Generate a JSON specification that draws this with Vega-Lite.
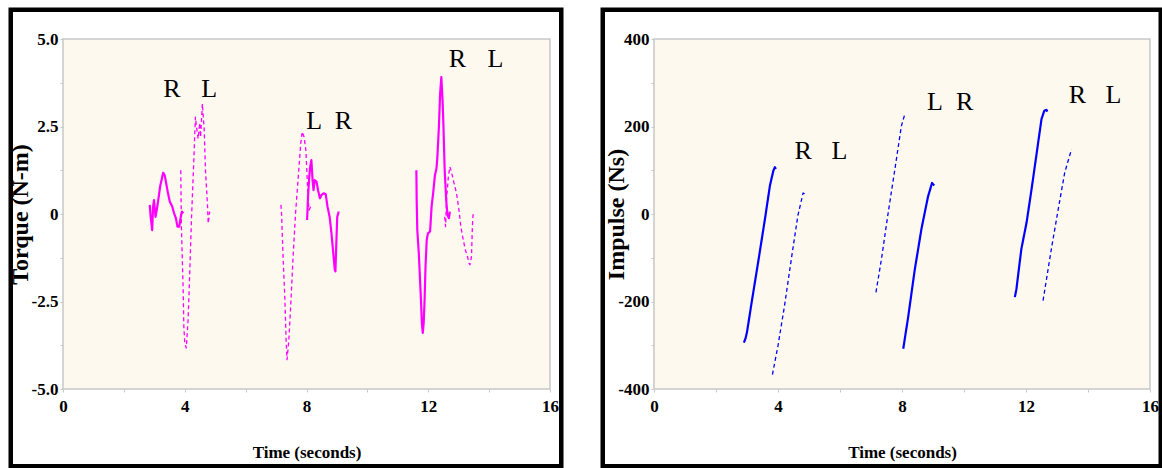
{
  "$schema": "https://vega.github.io/schema/vega-lite/v6.json",
  "background": "white",
  "padding": {"left": 7, "top": 6, "right": 0, "bottom": 0},
  "bounds": "flush",
  "spacing": 104,
  "config": {
    "view": {"fill": "#fdf9ef", "stroke": "#c8c8c8", "strokeWidth": 1.5},
    "style": {
      "guide-label": {"font": "Liberation Serif", "fontWeight": "bold", "fill": "black"},
      "guide-title": {"font": "Liberation Serif", "fontWeight": "bold", "fill": "black"}
    },
    "axis": {
      "labelFont": "Liberation Serif", "labelFontWeight": "bold", "labelFontSize": 17, "labelColor": "black",
      "titleFont": "Liberation Serif", "titleFontWeight": "bold", "titleColor": "black",
      "domain": false, "tickColor": "#c8c8c8", "tickSize": 3,
      "gridColor": "#cccccc", "gridWidth": 1.5,
      "labelFlush": false, "labelOverlap": false
    },
    "text": {"font": "Liberation Serif", "fontSize": 26, "color": "black"}
  },
  "datasets": {
    "torque": [
      {"t": 2.85, "v": 0.26, "seg": "R1", "foot": "R"},
      {"t": 2.88, "v": -0.08, "seg": "R1", "foot": "R"},
      {"t": 2.93, "v": -0.46, "seg": "R1", "foot": "R"},
      {"t": 2.96, "v": 0.21, "seg": "R1", "foot": "R"},
      {"t": 2.99, "v": 0.40, "seg": "R1", "foot": "R"},
      {"t": 3.04, "v": -0.08, "seg": "R1", "foot": "R"},
      {"t": 3.08, "v": 0.11, "seg": "R1", "foot": "R"},
      {"t": 3.13, "v": 0.40, "seg": "R1", "foot": "R"},
      {"t": 3.19, "v": 0.78, "seg": "R1", "foot": "R"},
      {"t": 3.29, "v": 1.18, "seg": "R1", "foot": "R"},
      {"t": 3.34, "v": 1.11, "seg": "R1", "foot": "R"},
      {"t": 3.40, "v": 0.83, "seg": "R1", "foot": "R"},
      {"t": 3.45, "v": 0.59, "seg": "R1", "foot": "R"},
      {"t": 3.51, "v": 0.35, "seg": "R1", "foot": "R"},
      {"t": 3.59, "v": 0.21, "seg": "R1", "foot": "R"},
      {"t": 3.65, "v": 0.02, "seg": "R1", "foot": "R"},
      {"t": 3.71, "v": -0.12, "seg": "R1", "foot": "R"},
      {"t": 3.76, "v": -0.36, "seg": "R1", "foot": "R"},
      {"t": 3.82, "v": -0.36, "seg": "R1", "foot": "R"},
      {"t": 3.87, "v": -0.08, "seg": "R1", "foot": "R"},
      {"t": 3.91, "v": 0.07, "seg": "R1", "foot": "R"},
      {"t": 3.95, "v": 0.02, "seg": "R1", "foot": "R"},

      {"t": 3.87, "v": 1.25, "seg": "L1", "foot": "L"},
      {"t": 3.88, "v": 0.40, "seg": "L1", "foot": "L"},
      {"t": 3.89, "v": -0.36, "seg": "L1", "foot": "L"},
      {"t": 3.92, "v": -1.31, "seg": "L1", "foot": "L"},
      {"t": 3.95, "v": -2.26, "seg": "L1", "foot": "L"},
      {"t": 3.97, "v": -3.21, "seg": "L1", "foot": "L"},
      {"t": 4.00, "v": -3.68, "seg": "L1", "foot": "L"},
      {"t": 4.05, "v": -3.83, "seg": "L1", "foot": "L"},
      {"t": 4.11, "v": -3.02, "seg": "L1", "foot": "L"},
      {"t": 4.16, "v": -1.79, "seg": "L1", "foot": "L"},
      {"t": 4.22, "v": -0.17, "seg": "L1", "foot": "L"},
      {"t": 4.29, "v": 1.35, "seg": "L1", "foot": "L"},
      {"t": 4.35, "v": 2.77, "seg": "L1", "foot": "L"},
      {"t": 4.40, "v": 2.39, "seg": "L1", "foot": "L"},
      {"t": 4.44, "v": 2.15, "seg": "L1", "foot": "L"},
      {"t": 4.49, "v": 2.60, "seg": "L1", "foot": "L"},
      {"t": 4.52, "v": 2.20, "seg": "L1", "foot": "L"},
      {"t": 4.58, "v": 3.15, "seg": "L1", "foot": "L"},
      {"t": 4.64, "v": 2.39, "seg": "L1", "foot": "L"},
      {"t": 4.68, "v": 1.25, "seg": "L1", "foot": "L"},
      {"t": 4.75, "v": 0.21, "seg": "L1", "foot": "L"},
      {"t": 4.77, "v": -0.27, "seg": "L1", "foot": "L"},
      {"t": 4.82, "v": 0.07, "seg": "L1", "foot": "L"},

      {"t": 7.16, "v": 0.26, "seg": "L2", "foot": "L"},
      {"t": 7.18, "v": 0.02, "seg": "L2", "foot": "L"},
      {"t": 7.23, "v": -1.22, "seg": "L2", "foot": "L"},
      {"t": 7.29, "v": -2.45, "seg": "L2", "foot": "L"},
      {"t": 7.33, "v": -3.59, "seg": "L2", "foot": "L"},
      {"t": 7.36, "v": -4.16, "seg": "L2", "foot": "L"},
      {"t": 7.42, "v": -3.59, "seg": "L2", "foot": "L"},
      {"t": 7.48, "v": -2.64, "seg": "L2", "foot": "L"},
      {"t": 7.56, "v": -1.22, "seg": "L2", "foot": "L"},
      {"t": 7.64, "v": 0.02, "seg": "L2", "foot": "L"},
      {"t": 7.73, "v": 1.06, "seg": "L2", "foot": "L"},
      {"t": 7.81, "v": 2.01, "seg": "L2", "foot": "L"},
      {"t": 7.86, "v": 2.35, "seg": "L2", "foot": "L"},
      {"t": 7.92, "v": 2.20, "seg": "L2", "foot": "L"},
      {"t": 7.98, "v": 1.82, "seg": "L2", "foot": "L"},
      {"t": 8.03, "v": 0.87, "seg": "L2", "foot": "L"},
      {"t": 8.08, "v": 0.11, "seg": "L2", "foot": "L"},
      {"t": 8.14, "v": 0.21, "seg": "L2", "foot": "L"},

      {"t": 8.02, "v": -0.17, "seg": "R2", "foot": "R"},
      {"t": 8.05, "v": 0.49, "seg": "R2", "foot": "R"},
      {"t": 8.09, "v": 1.06, "seg": "R2", "foot": "R"},
      {"t": 8.12, "v": 1.35, "seg": "R2", "foot": "R"},
      {"t": 8.16, "v": 1.54, "seg": "R2", "foot": "R"},
      {"t": 8.20, "v": 0.97, "seg": "R2", "foot": "R"},
      {"t": 8.23, "v": 0.68, "seg": "R2", "foot": "R"},
      {"t": 8.27, "v": 0.97, "seg": "R2", "foot": "R"},
      {"t": 8.33, "v": 0.92, "seg": "R2", "foot": "R"},
      {"t": 8.38, "v": 0.68, "seg": "R2", "foot": "R"},
      {"t": 8.44, "v": 0.45, "seg": "R2", "foot": "R"},
      {"t": 8.49, "v": 0.54, "seg": "R2", "foot": "R"},
      {"t": 8.56, "v": 0.59, "seg": "R2", "foot": "R"},
      {"t": 8.63, "v": 0.57, "seg": "R2", "foot": "R"},
      {"t": 8.69, "v": 0.21, "seg": "R2", "foot": "R"},
      {"t": 8.76, "v": -0.08, "seg": "R2", "foot": "R"},
      {"t": 8.82, "v": -0.55, "seg": "R2", "foot": "R"},
      {"t": 8.88, "v": -1.12, "seg": "R2", "foot": "R"},
      {"t": 8.93, "v": -1.60, "seg": "R2", "foot": "R"},
      {"t": 8.95, "v": -1.64, "seg": "R2", "foot": "R"},
      {"t": 8.98, "v": -0.84, "seg": "R2", "foot": "R"},
      {"t": 9.01, "v": -0.08, "seg": "R2", "foot": "R"},
      {"t": 9.06, "v": 0.07, "seg": "R2", "foot": "R"},

      {"t": 11.61, "v": 1.25, "seg": "R3", "foot": "R"},
      {"t": 11.62, "v": 0.40, "seg": "R3", "foot": "R"},
      {"t": 11.64, "v": -0.46, "seg": "R3", "foot": "R"},
      {"t": 11.69, "v": -1.12, "seg": "R3", "foot": "R"},
      {"t": 11.73, "v": -1.88, "seg": "R3", "foot": "R"},
      {"t": 11.76, "v": -2.45, "seg": "R3", "foot": "R"},
      {"t": 11.79, "v": -3.11, "seg": "R3", "foot": "R"},
      {"t": 11.82, "v": -3.40, "seg": "R3", "foot": "R"},
      {"t": 11.85, "v": -3.11, "seg": "R3", "foot": "R"},
      {"t": 11.88, "v": -2.45, "seg": "R3", "foot": "R"},
      {"t": 11.91, "v": -1.50, "seg": "R3", "foot": "R"},
      {"t": 11.95, "v": -0.74, "seg": "R3", "foot": "R"},
      {"t": 11.99, "v": -0.55, "seg": "R3", "foot": "R"},
      {"t": 12.06, "v": -0.50, "seg": "R3", "foot": "R"},
      {"t": 12.11, "v": 0.21, "seg": "R3", "foot": "R"},
      {"t": 12.16, "v": 0.59, "seg": "R3", "foot": "R"},
      {"t": 12.22, "v": 1.11, "seg": "R3", "foot": "R"},
      {"t": 12.27, "v": 1.30, "seg": "R3", "foot": "R"},
      {"t": 12.30, "v": 1.63, "seg": "R3", "foot": "R"},
      {"t": 12.35, "v": 2.49, "seg": "R3", "foot": "R"},
      {"t": 12.39, "v": 3.44, "seg": "R3", "foot": "R"},
      {"t": 12.43, "v": 3.91, "seg": "R3", "foot": "R"},
      {"t": 12.47, "v": 3.25, "seg": "R3", "foot": "R"},
      {"t": 12.50, "v": 2.49, "seg": "R3", "foot": "R"},
      {"t": 12.54, "v": 1.25, "seg": "R3", "foot": "R"},
      {"t": 12.59, "v": 0.40, "seg": "R3", "foot": "R"},
      {"t": 12.63, "v": -0.03, "seg": "R3", "foot": "R"},
      {"t": 12.68, "v": -0.12, "seg": "R3", "foot": "R"},
      {"t": 12.71, "v": 0.07, "seg": "R3", "foot": "R"},

      {"t": 12.54, "v": -0.08, "seg": "L3", "foot": "L"},
      {"t": 12.57, "v": -0.36, "seg": "L3", "foot": "L"},
      {"t": 12.60, "v": 0.40, "seg": "L3", "foot": "L"},
      {"t": 12.66, "v": 1.06, "seg": "L3", "foot": "L"},
      {"t": 12.71, "v": 1.35, "seg": "L3", "foot": "L"},
      {"t": 12.76, "v": 1.21, "seg": "L3", "foot": "L"},
      {"t": 12.85, "v": 0.87, "seg": "L3", "foot": "L"},
      {"t": 12.93, "v": 0.59, "seg": "L3", "foot": "L"},
      {"t": 13.01, "v": 0.11, "seg": "L3", "foot": "L"},
      {"t": 13.07, "v": -0.36, "seg": "L3", "foot": "L"},
      {"t": 13.15, "v": -0.74, "seg": "L3", "foot": "L"},
      {"t": 13.22, "v": -1.03, "seg": "L3", "foot": "L"},
      {"t": 13.29, "v": -1.22, "seg": "L3", "foot": "L"},
      {"t": 13.34, "v": -1.41, "seg": "L3", "foot": "L"},
      {"t": 13.37, "v": -1.45, "seg": "L3", "foot": "L"},
      {"t": 13.42, "v": -1.22, "seg": "L3", "foot": "L"},
      {"t": 13.45, "v": -0.36, "seg": "L3", "foot": "L"},
      {"t": 13.47, "v": -0.03, "seg": "L3", "foot": "L"},
      {"t": 13.51, "v": 0.00, "seg": "L3", "foot": "L"}
    ],
    "impulse": [
      {"t": 2.90, "v": -294, "seg": "R1", "foot": "R"},
      {"t": 2.95, "v": -285, "seg": "R1", "foot": "R"},
      {"t": 3.00, "v": -270, "seg": "R1", "foot": "R"},
      {"t": 3.15, "v": -202, "seg": "R1", "foot": "R"},
      {"t": 3.36, "v": -110, "seg": "R1", "foot": "R"},
      {"t": 3.58, "v": -11, "seg": "R1", "foot": "R"},
      {"t": 3.74, "v": 65, "seg": "R1", "foot": "R"},
      {"t": 3.85, "v": 99, "seg": "R1", "foot": "R"},
      {"t": 3.90, "v": 107, "seg": "R1", "foot": "R"},
      {"t": 3.93, "v": 103, "seg": "R1", "foot": "R"},

      {"t": 3.82, "v": -367, "seg": "L1", "foot": "L"},
      {"t": 4.00, "v": -301, "seg": "L1", "foot": "L"},
      {"t": 4.21, "v": -210, "seg": "L1", "foot": "L"},
      {"t": 4.43, "v": -103, "seg": "L1", "foot": "L"},
      {"t": 4.64, "v": -4, "seg": "L1", "foot": "L"},
      {"t": 4.81, "v": 48, "seg": "L1", "foot": "L"},
      {"t": 4.87, "v": 46, "seg": "L1", "foot": "L"},

      {"t": 7.16, "v": -179, "seg": "L2", "foot": "L"},
      {"t": 7.34, "v": -102, "seg": "L2", "foot": "L"},
      {"t": 7.55, "v": 1, "seg": "L2", "foot": "L"},
      {"t": 7.77, "v": 102, "seg": "L2", "foot": "L"},
      {"t": 7.98, "v": 201, "seg": "L2", "foot": "L"},
      {"t": 8.09, "v": 228, "seg": "L2", "foot": "L"},

      {"t": 8.04, "v": -308, "seg": "R2", "foot": "R"},
      {"t": 8.20, "v": -235, "seg": "R2", "foot": "R"},
      {"t": 8.41, "v": -128, "seg": "R2", "foot": "R"},
      {"t": 8.63, "v": -33, "seg": "R2", "foot": "R"},
      {"t": 8.84, "v": 40, "seg": "R2", "foot": "R"},
      {"t": 8.97, "v": 71, "seg": "R2", "foot": "R"},
      {"t": 9.04, "v": 65, "seg": "R2", "foot": "R"},

      {"t": 11.64, "v": -190, "seg": "R3", "foot": "R"},
      {"t": 11.69, "v": -172, "seg": "R3", "foot": "R"},
      {"t": 11.85, "v": -80, "seg": "R3", "foot": "R"},
      {"t": 12.02, "v": -19, "seg": "R3", "foot": "R"},
      {"t": 12.18, "v": 57, "seg": "R3", "foot": "R"},
      {"t": 12.34, "v": 137, "seg": "R3", "foot": "R"},
      {"t": 12.50, "v": 217, "seg": "R3", "foot": "R"},
      {"t": 12.59, "v": 236, "seg": "R3", "foot": "R"},
      {"t": 12.66, "v": 238, "seg": "R3", "foot": "R"},
      {"t": 12.69, "v": 234, "seg": "R3", "foot": "R"},

      {"t": 12.55, "v": -198, "seg": "L3", "foot": "L"},
      {"t": 12.82, "v": -79, "seg": "L3", "foot": "L"},
      {"t": 13.04, "v": 11, "seg": "L3", "foot": "L"},
      {"t": 13.25, "v": 95, "seg": "L3", "foot": "L"},
      {"t": 13.47, "v": 148, "seg": "L3", "foot": "L"}
    ],
    "labelsT": [
      {"t": 3.58, "v": 3.56, "txt": "R"},
      {"t": 4.80, "v": 3.56, "txt": "L"},
      {"t": 8.25, "v": 2.65, "txt": "L"},
      {"t": 9.21, "v": 2.65, "txt": "R"},
      {"t": 12.96, "v": 4.42, "txt": "R"},
      {"t": 14.21, "v": 4.42, "txt": "L"}
    ],
    "labelsI": [
      {"t": 4.81, "v": 145, "txt": "R"},
      {"t": 5.98, "v": 145, "txt": "L"},
      {"t": 9.06, "v": 257, "txt": "L"},
      {"t": 10.02, "v": 257, "txt": "R"},
      {"t": 13.66, "v": 271, "txt": "R"},
      {"t": 14.82, "v": 271, "txt": "L"}
    ],
    "one": [{"k": 1}]
  },
  "hconcat": [
    {
      "width": 487,
      "height": 350,
      "layer": [
        {
          "data": {"name": "one"},
          "mark": {"type": "rect", "fill": "transparent", "stroke": "black", "strokeWidth": 4.5, "clip": false},
          "encoding": {
            "x": {"datum": -1.717, "scale": {"domain": [0, 16], "nice": false, "zero": false}},
            "x2": {"datum": 16.37},
            "y": {"datum": 5.836, "scale": {"domain": [-5, 5], "nice": false, "zero": false}},
            "y2": {"datum": -7.207}
          }
        },
        {
          "data": {"name": "torque"},
          "mark": {"type": "line", "color": "#ff00ff", "strokeJoin": "round"},
          "encoding": {
            "x": {
              "field": "t", "type": "quantitative",
              "scale": {"domain": [0, 16], "nice": false, "zero": false},
              "axis": {
                "values": [0, 2, 4, 6, 8, 10, 12, 14, 16],
                "labelExpr": "datum.value % 4 === 0 ? datum.label : ''",
                "labelFont": "Liberation Serif", "titleFont": "Liberation Serif",
                "title": "Time (seconds)", "titleFontSize": 17, "titlePadding": 30, "labelPadding": 6,
                "gridColor": "#d6d6d6", "gridWidth": 1.2
              }
            },
            "y": {
              "field": "v", "type": "quantitative",
              "scale": {"domain": [-5, 5], "nice": false, "zero": false},
              "axis": {
                "values": [-5, -3.75, -2.5, -1.25, 0, 1.25, 2.5, 3.75, 5],
                "labelExpr": "datum.value === 0 ? '0' : (datum.value % 2.5 === 0 ? (datum.value < 0 ? '-' : '') + format(abs(datum.value), '.1f') : '')",
                "labelFont": "Liberation Serif", "titleFont": "Liberation Serif",
                "title": "Torque (N-m)", "titleFontSize": 24, "titlePadding": -1, "labelPadding": 2
              }
            },
            "detail": {"field": "seg"},
            "strokeDash": {"field": "foot", "type": "nominal", "scale": {"domain": ["R", "L"], "range": [[1, 0], [4, 3]]}, "legend": null},
            "strokeWidth": {"field": "foot", "type": "nominal", "scale": {"domain": ["R", "L"], "range": [2.2, 1.3]}, "legend": null}
          }
        },
        {
          "data": {"name": "labelsT"},
          "mark": {"type": "text", "align": "center", "baseline": "middle"},
          "encoding": {
            "x": {"field": "t", "type": "quantitative"},
            "y": {"field": "v", "type": "quantitative"},
            "text": {"field": "txt"}
          }
        }
      ]
    },
    {
      "width": 496,
      "height": 350,
      "layer": [
        {
          "data": {"name": "one"},
          "mark": {"type": "rect", "fill": "transparent", "stroke": "black", "strokeWidth": 4.5, "clip": false},
          "encoding": {
            "x": {"datum": -1.653, "scale": {"domain": [0, 16], "nice": false, "zero": false}},
            "x2": {"datum": 16.347},
            "y": {"datum": 466.86, "scale": {"domain": [-400, 400], "nice": false, "zero": false}},
            "y2": {"datum": -576.57}
          }
        },
        {
          "data": {"name": "impulse"},
          "mark": {"type": "line", "color": "#0000ff", "strokeJoin": "round"},
          "encoding": {
            "x": {
              "field": "t", "type": "quantitative",
              "scale": {"domain": [0, 16], "nice": false, "zero": false},
              "axis": {
                "values": [0, 2, 4, 6, 8, 10, 12, 14, 16],
                "labelExpr": "datum.value % 4 === 0 ? datum.label : ''",
                "labelFont": "Liberation Serif", "titleFont": "Liberation Serif",
                "title": "Time (seconds)", "titleFontSize": 17, "titlePadding": 30, "labelPadding": 6,
                "gridColor": "#d6d6d6", "gridWidth": 1.2
              }
            },
            "y": {
              "field": "v", "type": "quantitative",
              "scale": {"domain": [-400, 400], "nice": false, "zero": false},
              "axis": {
                "values": [-400, -300, -200, -100, 0, 100, 200, 300, 400],
                "labelExpr": "datum.value % 200 === 0 ? (datum.value < 0 ? '-' : '') + format(abs(datum.value), 'd') : ''",
                "labelFont": "Liberation Serif", "titleFont": "Liberation Serif",
                "title": "Impulse (Ns)", "titleFontSize": 24, "titlePadding": -11, "labelPadding": 2
              }
            },
            "detail": {"field": "seg"},
            "strokeDash": {"field": "foot", "type": "nominal", "scale": {"domain": ["R", "L"], "range": [[1, 0], [4, 4]]}, "legend": null},
            "strokeWidth": {"field": "foot", "type": "nominal", "scale": {"domain": ["R", "L"], "range": [2.6, 1.2]}, "legend": null}
          }
        },
        {
          "data": {"name": "labelsI"},
          "mark": {"type": "text", "align": "center", "baseline": "middle"},
          "encoding": {
            "x": {"field": "t", "type": "quantitative"},
            "y": {"field": "v", "type": "quantitative"},
            "text": {"field": "txt"}
          }
        }
      ]
    }
  ]
}
